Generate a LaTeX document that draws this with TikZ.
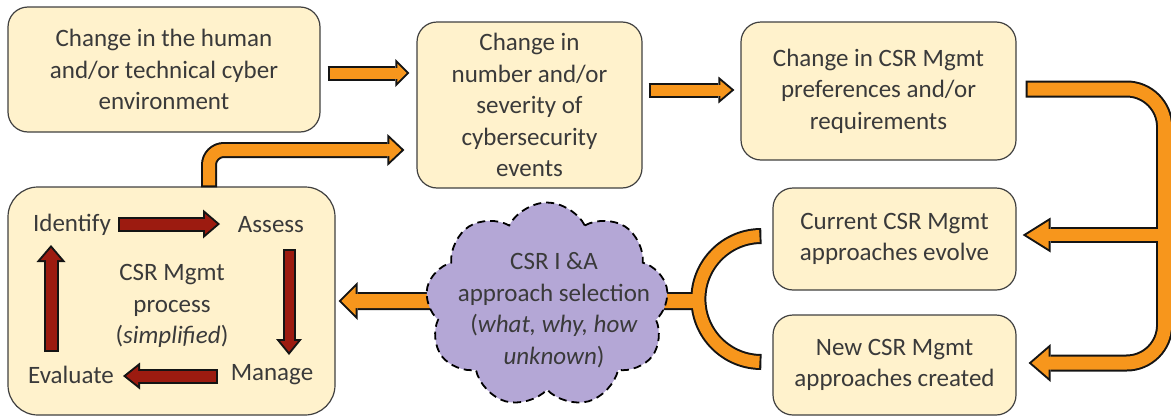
\documentclass[tikz,border=0pt]{standalone}
\usepackage{fontspec}
\setmainfont{Carlito}
\usetikzlibrary{arrows.meta,shapes.symbols,calc}

\definecolor{stagefill}{HTML}{FFF2CC}
\definecolor{stageline}{HTML}{404040}
\definecolor{ink}{HTML}{3A3A3A}
\definecolor{flow}{HTML}{F7961C}
\definecolor{cyclered}{HTML}{9C1B10}
\definecolor{haze}{HTML}{B4A7D6}
\definecolor{outline}{HTML}{141414}

\pgfdeclarelayer{front}
\pgfsetlayers{main,front}

% outline pass of a block arrow: #1 shaft width, #2 head width, #3 head length, #4 path
\newcommand\arrowedge[4]{%
  \pgfmathsetmacro\abEw{#1+4}%
  \draw[draw=outline, line width=\abEw pt,
        -{Triangle[width=#2pt,length=#3pt,line width=0pt]}] #4;}
% fill pass of a block arrow: #1 colour, then as above (edge is 2pt wide)
\newcommand\arrowbody[5]{%
  \pgfmathsetmacro\abTr{2*sqrt((#3/2)^2+(#4)^2)/(#3/2)}%
  \pgfmathsetmacro\abLi{#4-2-\abTr}%
  \pgfmathsetmacro\abWi{#3*\abLi/#4}%
  \pgfmathsetmacro\abSh{#4-4}%
  \draw[draw=#1, line width=#2pt, shorten <=2pt, shorten >=\abSh pt] #5;
  \draw[draw=#1, line width=0.1pt, shorten <=2pt, shorten >=\abTr pt,
        -{Triangle[width=\abWi pt,length=\abLi pt,line width=0pt]}] #5;}
\newcommand\blockarrow[5]{\arrowedge{#2}{#3}{#4}{#5}\arrowbody{#1}{#2}{#3}{#4}{#5}}

\begin{document}
\begin{tikzpicture}[x=1pt, y=-1pt, text=ink,
  every node/.style={font=\fontsize{25}{31.5}\selectfont},
  stage/.style={draw=stageline, line width=1.2pt, fill=stagefill,
                rounded corners=20pt, align=center, inner sep=0pt},
  phase/.style={inner sep=0pt}]

\useasboundingbox (0,0) rectangle (1171,418);

% stages of the chain
\node[stage, minimum width=312pt, minimum height=125pt] (env) at (164,69.5)
  {Change in the human\\and/or technical cyber\\environment};
\node[stage, minimum width=225pt, minimum height=166pt] (events) at (529.5,105)
  {Change in\\number and/or\\severity of\\cybersecurity\\events};
\node[stage, minimum width=275pt, minimum height=138pt] (prefs) at (878.5,91)
  {Change in CSR Mgmt\\preferences and/or\\requirements};
\node[stage, minimum width=243pt, minimum height=102pt] (current) at (894.5,239)
  {Current CSR Mgmt\\approaches evolve};
\node[stage, minimum width=243pt, minimum height=100pt] (new) at (894.5,365)
  {New CSR Mgmt\\approaches created};
\node[stage, rounded corners=30pt, minimum width=327pt, minimum height=228pt] (process) at (171.5,301) {};
\node[align=center, inner sep=0pt] (core) at (172,306) {CSR Mgmt\\process\\(\textit{simplified})};

% the management cycle inside the process box
\node[phase] (identify) at (72,225) {Identify};
\node[phase] (assess)   at (271,225) {Assess};
\node[phase] (manage)   at (272,375) {Manage};
\node[phase] (evaluate) at (71,375) {Evaluate};

\blockarrow{cyclered}{11}{29}{17}{($(identify)+(46,-1)$) -- ($(assess)+(-51,-1)$)}
\blockarrow{cyclered}{9}{26}{16}{($(assess)+(18,24)$) -- ($(manage)+(17,-20)$)}
\blockarrow{cyclered}{11}{27}{17}{($(manage)+(-54,1)$) -- ($(evaluate)+(52,1)$)}
\blockarrow{cyclered}{11}{29}{17}{($(evaluate)+(-20,-23)$) -- ($(identify)+(-21,20)$)}

% selection cloud, kept above the arrows that run into it
\begin{pgfonlayer}{front}
\node[cloud, cloud puffs=9, cloud puff arc=125, aspect=1.18,
      minimum width=243pt, minimum height=205pt, inner sep=0pt,
      draw=black, fill=haze, line width=1.8pt, dash pattern=on 8pt off 5pt]
      (cloud) at (547,305) {};
\node[align=center, inner sep=0pt] (cloudtext) at (554,310)
  {CSR I \&A\\approach selection\\(\textit{what, why, how}\\\textit{unknown})};
\end{pgfonlayer}

% flow along the top row
\blockarrow{flow}{11}{28}{14}{($(env.east)+(7,3.5)$) -- ($(events.west|-env.east)+(-7,3.5)$)}
\blockarrow{flow}{11}{27}{16}{($(events.east)+(6,-15)$) -- ($(prefs.west)+(-6,-1)$)}
\blockarrow{flow}{12}{32}{17}{($(process.north)+(37.5,1)$) [rounded corners=15pt] |- ($(events.west)+(-12,45)$)}

% split feeding both approach boxes
\coordinate (uStart) at ($(prefs.east)+(9,-2)$);
\coordinate (uTurn)  at ($(new.east)+(148,-2)$);
\coordinate (uEnd)   at ($(new.east)+(12,-2)$);
\coordinate (uJoin)  at ($(current.east)+(148,-4)$);
\coordinate (uTip)   at ($(current.east)+(6,-4)$);
\arrowedge{13}{38}{22}{(uStart) [rounded corners=38pt] -| (uTurn) -- (uEnd)}
\arrowedge{12}{35}{28}{(uJoin) -- (uTip)}
\arrowbody{flow}{13}{38}{22}{(uStart) [rounded corners=38pt] -| (uTurn) -- (uEnd)}
\arrowbody{flow}{12}{35}{28}{(uJoin) -- (uTip)}

% bracket gathering the approaches into the cloud
\coordinate (ccen) at ($(current.west)!0.5!(new.west)+(-11,-3)$);
\draw[draw=outline, line width=16pt] ($(ccen)+(90:63)$) arc[start angle=90, end angle=270, radius=63];
\draw[draw=outline, line width=18pt] ($(cloud.east)+(-20,-4)$) -- ($(ccen)+(-62,2)$);
\draw[draw=flow, line width=12pt] ($(ccen)+(91.8:63)$) arc[start angle=91.8, end angle=268.2, radius=63];
\draw[draw=flow, line width=14pt] ($(cloud.east)+(-20,-4)$) -- ($(ccen)+(-59,2)$);

% from the cloud back into the process
\blockarrow{flow}{14}{38}{19}{($(cloud.west)+(20,-4)$) -- ($(process.east)+(3,0)$)}

\end{tikzpicture}
\end{document}
